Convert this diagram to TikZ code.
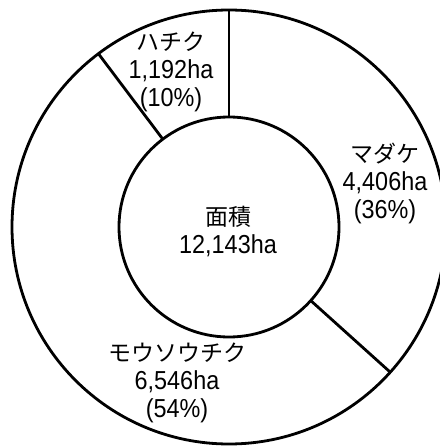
\documentclass[tikz,border=0pt]{standalone}
\usepackage{fontspec}
\setmainfont{Liberation Sans}[FakeStretch=0.9]
\newfontfamily\jpfont{Noto Sans CJK JP}
\newcommand\jp{\jpfont\fontsize{23}{28}\selectfont}
\usetikzlibrary{calc}
\begin{document}
\begin{tikzpicture}[x=1pt,y=-1pt,line width=2.8pt,
  lbl/.style={align=center,font=\fontsize{26}{28}\selectfont,inner sep=0pt}]
\useasboundingbox (0,0) rectangle (439,446);
\coordinate (c) at (229,227);
\draw (c) circle[radius=217pt];
\draw (c) circle[radius=110pt];
\coordinate (a1) at ($(c)+(90:110pt)$);
\coordinate (a2) at ($(c)+(90:217pt)$);
\coordinate (b1) at ($(c)+(127:110pt)$);
\coordinate (b2) at ($(c)+(127:217pt)$);
\coordinate (d1) at ($(c)+(-42:110pt)$);
\coordinate (d2) at ($(c)+(-42:217pt)$);
\draw (a1) -- (a2);
\draw (b1) -- (b2);
\draw (d1) -- (d2);
\node[lbl] (center) at (228,232) {{\jp 面積}\\12,143ha};
\node[lbl] (hachiku) at (171,72) {{\jp ハチク}\\1,192ha\\(10\%)};
\node[lbl] (madake) at (385,183) {{\jp マダケ}\\4,406ha\\(36\%)};
\node[lbl] (mosochiku) at (177,383) {{\jp モウソウチク}\\6,546ha\\(54\%)};
\end{tikzpicture}
\end{document}
